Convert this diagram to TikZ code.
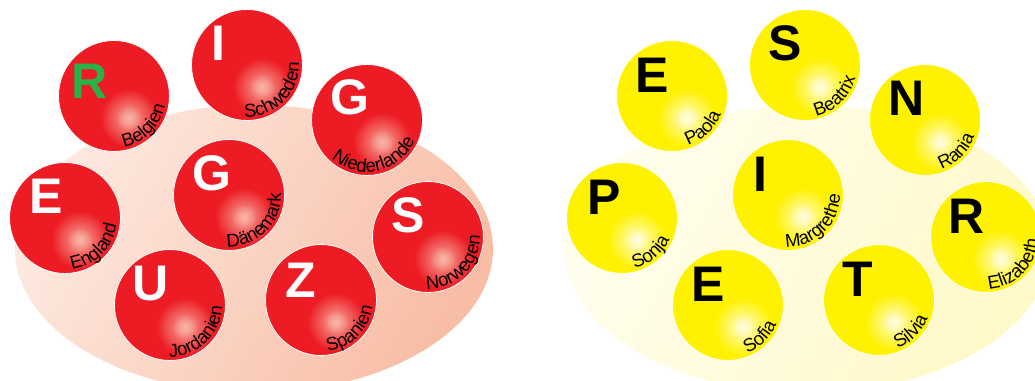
\documentclass[tikz,border=0pt]{standalone}
\usepackage{fontspec}
\setmainfont{Liberation Sans}
\usetikzlibrary{calc,decorations.text,fadings}
\definecolor{ballred}{HTML}{ED1C24}
\definecolor{ballyellow}{HTML}{FFF200}
\definecolor{redhl}{HTML}{FAC0B0}
\definecolor{yellowhl}{HTML}{FFFEF0}
\definecolor{rgreen}{HTML}{2BB04A}
\definecolor{ellRedA}{HTML}{FDE9E0}
\definecolor{ellRedB}{HTML}{F8BDA5}
\definecolor{ellYelA}{HTML}{FFFEEE}
\definecolor{ellYelB}{HTML}{FFF8C8}
\tikzfading[name=glowfade, inner color=transparent!0, outer color=transparent!100]
\newcommand\namefont{\fontsize{18.5}{18.5}\selectfont}
\tikzset{
  ballnode/.style={circle, draw=white, line width=0.8pt, minimum size=111pt, inner sep=0pt},
  bigletter/.style={inner sep=0pt, font=\bfseries\fontsize{50}{50}\selectfont},
}
% \ball{name}{x}{y}{kind}{letter}{letter colour}{letter offset}{label}{mid angle}
\newcommand\ball[9]{%
  \node[ballnode, fill=ball#4] (#1) at (#2,#3) {};
  \fill[#4hl, path fading=glowfade, fill opacity=0.85] ($(#1.center)+(15,-22)$) circle (29pt);
  \fill[#4hl, path fading=glowfade, fill opacity=0.6] ($(#1.center)+(15,-22)$) circle (13pt);
  \node[bigletter, text=#6] (#1-L) at ($(#1.center)+#7$) {#5};
  \path[decorate, decoration={text along path, text align=center, text color=black, text={|\namefont|#8}}]
    ($(#1.center)+(#9-80:52)$) arc[start angle=#9-80, end angle=#9+80, radius=52pt];
}
\begin{document}
\begin{tikzpicture}[x=1pt,y=1pt]
\useasboundingbox (0,0) rectangle (1035,380);
\clip (0,0) rectangle (1035,380);
\shade[top color=ellRedA, bottom color=ellRedB, shading angle=60] (254,131) ellipse [x radius=239pt, y radius=144pt];
\shade[top color=ellYelA, bottom color=ellYelB, shading angle=60] (807,131) ellipse [x radius=243pt, y radius=144pt];
% red group
\ball{belgien}{114}{284}{red}{R}{rgreen}{(-24,15)}{Belgien}{-45}
\ball{schweden}{247}{315}{red}{I}{white}{(-29,22)}{Schweden}{-45}
\ball{niederlande}{367}{260}{red}{G}{white}{(-17,23)}{Niederlande}{-78}
\ball{daenemark}{229}{185}{red}{G}{white}{(-17,22)}{Dänemark}{-45}
\ball{england}{65}{162}{red}{E}{white}{(-19,22)}{England}{-45}
\ball{jordanien}{170}{75}{red}{U}{white}{(-19,21)}{Jordanien}{-46}
\ball{spanien}{321}{80}{red}{Z}{white}{(-20,20)}{Spanien}{-45}
\ball{norwegen}{428}{143}{red}{S}{white}{(-20,22)}{Norwegen}{-45}
% yellow group
\ball{paola}{672}{284}{yellow}{E}{black}{(-20,21)}{Paola}{-46}
\ball{beatrix}{805}{315}{yellow}{S}{black}{(-20,22)}{Beatrix}{-46}
\ball{rania}{925}{260}{yellow}{N}{black}{(-18,22)}{Rania}{-45}
\ball{margrethe}{788}{185}{yellow}{I}{black}{(-28,21)}{Margrethe}{-46}
\ball{sonja}{622}{162}{yellow}{P}{black}{(-18,21)}{Sonja}{-50}
\ball{sofia}{728}{75}{yellow}{E}{black}{(-20,21)}{Sofia}{-45}
\ball{silvia}{879}{80}{yellow}{T}{black}{(-21,21)}{Silvia}{-45}
\ball{elizabeth}{986}{143}{yellow}{R}{black}{(-19,21)}{Elizabeth}{-45}
\end{tikzpicture}
\end{document}
